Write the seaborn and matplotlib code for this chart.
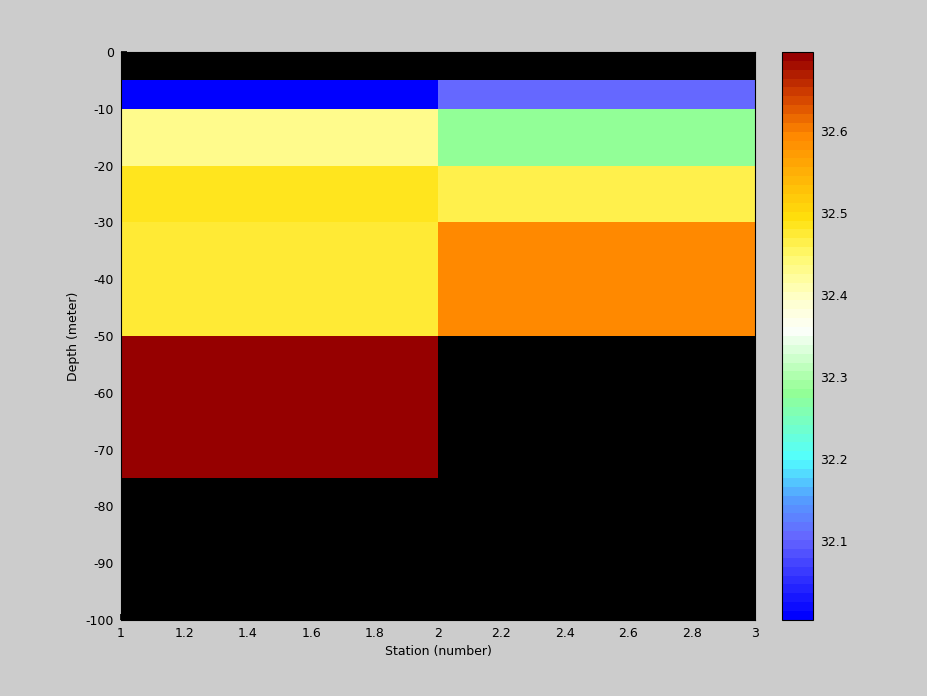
import numpy as np
import matplotlib
matplotlib.use("Agg")
import matplotlib.pyplot as plt
from matplotlib.colors import LinearSegmentedColormap
import seaborn as sns

# station positions (cell edges) and depth edges
stations = [1, 2, 3]
depths = [0, -5, -10, -20, -30, -50, -75, -100]

# salinity per depth layer, one list per station (NaN = no data)
station1 = [np.nan, 32.004, 32.43, 32.485, 32.472, 32.69, np.nan]
station2 = [np.nan, 32.11, 32.275, 32.462, 32.595, np.nan, np.nan]

cmin, cmax = 32.004, 32.697
cbar_ticks = [32.1, 32.2, 32.3, 32.4, 32.5, 32.6]
xticks = [1, 1.2, 1.4, 1.6, 1.8, 2, 2.2, 2.4, 2.6, 2.8, 3]
yticks = [0, -10, -20, -30, -40, -50, -60, -70, -80, -90, -100]

sns.set_theme(style="ticks")
plt.rcParams["font.family"] = ["DejaVu Sans"]
plt.rcParams["font.size"] = 9
plt.rcParams["axes.unicode_minus"] = False
plt.rcParams["text.color"] = "black"
plt.rcParams["axes.labelcolor"] = "black"

# blue - cyan - white - yellow - dark red, 64 steps like matlab
stops = [
    (0.00, (0.0, 0.0, 1.0)),
    (0.14, (0.40, 0.40, 1.0)),
    (0.21, (0.33, 0.62, 1.0)),
    (0.28, (0.32, 1.0, 1.0)),
    (0.40, (0.58, 1.0, 0.58)),
    (0.51, (0.99, 1.0, 0.98)),
    (0.57, (1.0, 1.0, 0.78)),
    (0.64, (1.0, 0.98, 0.45)),
    (0.71, (1.0, 0.88, 0.05)),
    (0.86, (1.0, 0.53, 0.0)),
    (0.93, (0.82, 0.25, 0.0)),
    (1.00, (0.59, 0.0, 0.0)),
]
cmap = LinearSegmentedColormap.from_list("sal", stops, N=64)

fig = plt.figure(figsize=(9.28, 6.96), dpi=100, facecolor="#cccccc")
ax = fig.add_axes([0.1304, 0.1092, 0.6832, 0.8161])
cax = fig.add_axes([0.8427, 0.1092, 0.0334, 0.8161])

ax.set_facecolor("black")
values = np.ma.masked_invalid(np.column_stack([station1, station2]))
mesh = ax.pcolormesh(stations, depths, values, cmap=cmap, vmin=cmin, vmax=cmax)

ax.set_xlim(1, 3)
ax.set_ylim(-100, 0)
ax.set_xticks(xticks)
ax.set_xticklabels([f"{t:g}" for t in xticks])
ax.set_yticks(yticks)
ax.tick_params(direction="in", length=4, colors="black", labelcolor="black",
               labelsize=9, pad=5)
ax.set_xlabel("Station (number)", fontsize=9, color="black", labelpad=4)
ax.set_ylabel("Depth (meter)", fontsize=9, color="black", labelpad=4)
for s in ax.spines.values():
    s.set_color("black")
    s.set_linewidth(0.8)

cb = fig.colorbar(mesh, cax=cax)
cb.set_ticks(cbar_ticks)
cb.ax.tick_params(direction="in", length=4, left=True, right=True,
                  labelsize=9, labelcolor="black", colors="black", pad=5)
cb.outline.set_edgecolor("black")
cb.outline.set_linewidth(0.8)

fig.savefig("out.png", dpi=100, facecolor=fig.get_facecolor())
